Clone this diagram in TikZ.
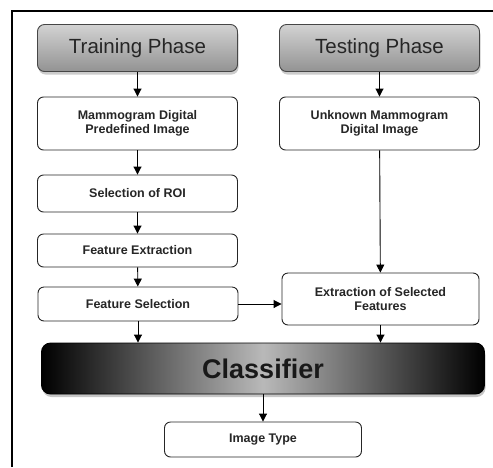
\documentclass[tikz,border=0pt]{standalone}
\usepackage{fontspec}
\setmainfont{Liberation Sans}
\usetikzlibrary{arrows.meta,shadows}

\begin{document}
\begin{tikzpicture}[x=1pt,y=-1pt,line width=0.9pt,
  phase/.style={draw=gray!55!black,rounded corners=7pt,top color=gray!35,bottom color=gray!85,
    drop shadow={shadow xshift=1pt,shadow yshift=-3pt,opacity=0.4},
    minimum width=200pt,minimum height=47pt,text=black!85,font=\fontsize{20.5}{24}\selectfont},
  stepbox/.style={draw=black!85,rounded corners=6pt,fill=white,minimum width=200pt,
    align=center,text=black!85,font=\fontsize{12.5}{14.5}\selectfont\bfseries},
  clsbox/.style={draw=black,rounded corners=9pt,left color=black,right color=black,middle color=gray!55,
    drop shadow={shadow xshift=1pt,shadow yshift=-3pt,opacity=0.45},
    minimum width=443pt,minimum height=51pt,text=black!90,font=\fontsize{27}{30}\selectfont\bfseries},
  arr/.style={-{Triangle[width=8pt,length=8pt]}}]
\useasboundingbox (0,0) rectangle (493,467);

% frame
\draw[line width=1.2pt] (12,467) -- (12,11) -- (493,11);

\node [phase] (train) at (137.5,48) {Training Phase};
\node [phase] (test) at (379.5,48) {Testing Phase};

\node [stepbox,minimum height=53pt] (mdp) at (137.5,123.5) {Mammogram Digital\\Predefined Image};
\node [stepbox,minimum height=53pt] (umd) at (379.5,123.5) {Unknown Mammogram\\Digital Image};
\node [stepbox,minimum height=37pt] (roi) at (137.5,193.5) {Selection of ROI};
\node [stepbox,minimum height=33pt] (fext) at (137.5,250.5) {Feature Extraction};
\node [stepbox,minimum height=34pt] (fsel) at (138,304) {Feature Selection};
\node [stepbox,minimum height=52pt,minimum width=197pt] (esf) at (380.5,299) {Extraction of Selected\\Features};

\node [clsbox] (cls) at (263,368.5) {Classifier};
\node [stepbox,minimum height=35pt,minimum width=197pt] (itype) at (263,439.5) {Image Type};

\draw[arr] (train) -- (mdp);
\draw[arr] (test) -- (umd);
\draw[arr] (mdp) -- (roi);
\draw[arr] (roi) -- (fext);
\draw[arr] (fext) -- (fsel);
\draw[arr] (umd) -- (esf);
\draw[arr] (fsel.east) -- (fsel.east -| esf.west);
\draw[arr] (fsel.south) -- (fsel.south |- cls.north);
\draw[arr] (esf.south) -- (esf.south |- cls.north);
\draw[arr] (cls) -- (itype);

\end{tikzpicture}
\end{document}
